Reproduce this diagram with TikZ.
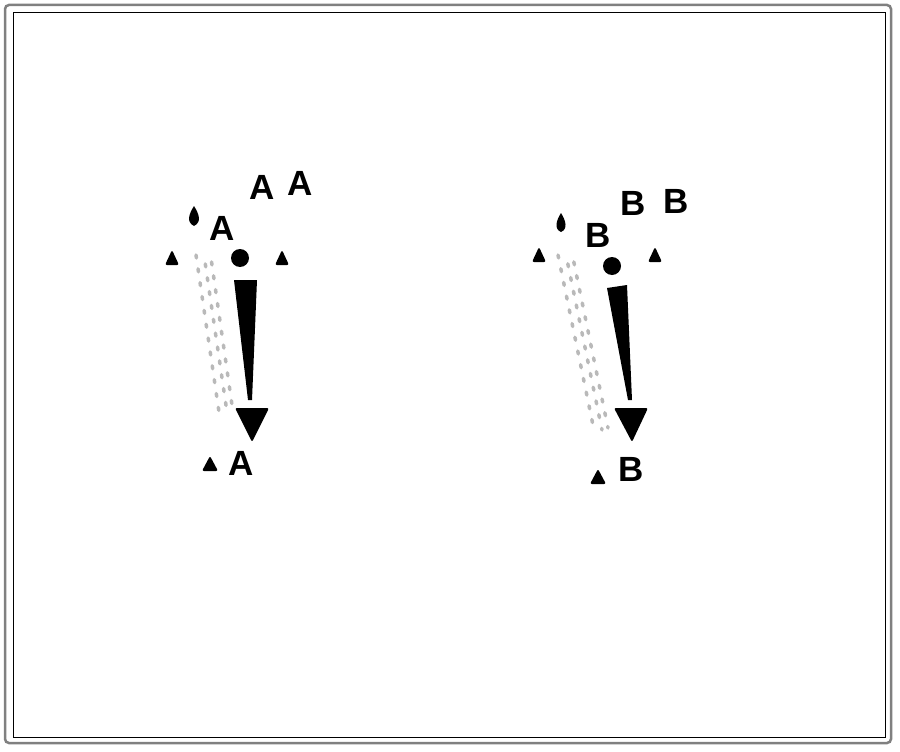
\documentclass[tikz,border=0pt]{standalone}
\usepackage{fontspec}
\setmainfont{Liberation Sans}
\begin{document}
\begin{tikzpicture}[x=1pt,y=-1pt,
  letter/.style={font=\fontsize{35}{35}\selectfont\bfseries, inner sep=0pt},
  tri/.style={fill=black, rounded corners=2pt},
  dotband/.style={gray!55, line width=3.5pt, dash pattern=on 3pt off 11pt, line cap=round}]
\useasboundingbox (0,0) rectangle (900,752);
\fill[white] (0,0) rectangle (900,752);
\draw[gray, line width=2.5pt, rounded corners=4pt] (5,5) rectangle (891,743);
\draw[black, line width=1pt] (13,13) rectangle (885,737);

% ---------- left group ----------
\node[letter] (la1) at (262,187) {A};
\node[letter] (la2) at (300,183) {A};
\node[letter] (la3) at (222,228) {A};
\node[letter] (la4) at (241,463) {A};
\fill (194,206) .. controls (189,214) and (186,222) .. (194,226) .. controls (202,222) and (199,214) .. (194,206);
\fill[tri] (165,265) -- (172,250) -- (179,265) -- cycle;
\fill[tri] (275,265) -- (282,250) -- (289,265) -- cycle;
\fill[tri] (202,471) -- (210,456) -- (218,471) -- cycle;
\node[circle, fill=black, minimum size=18pt, inner sep=0pt] (lc) at (240,258) {};
\fill (234,280) -- (257,280) -- (252,400) -- (248,400) -- cycle;
\fill[tri] (235,408) -- (269,408) -- (252,442) -- cycle;
\draw[dotband] (196,255) -- (219,412);
\draw[dotband, dash phase=5pt] (204,255) -- (227,412);
\draw[dotband, dash phase=10pt] (211,258) -- (233,412);

% ---------- right group ----------
\node[letter] (rb1) at (633,203) {B};
\node[letter] (rb2) at (676,201) {B};
\node[letter] (rb3) at (598,235) {B};
\node[letter] (rb4) at (631,469) {B};
\fill (561,213) .. controls (556,221) and (554,229) .. (561,232) .. controls (568,229) and (566,221) .. (561,213);
\fill[tri] (532,262) -- (539,247) -- (546,262) -- cycle;
\fill[tri] (648,262) -- (655,247) -- (662,262) -- cycle;
\fill[tri] (590,484) -- (598,469) -- (606,484) -- cycle;
\node[circle, fill=black, minimum size=18pt, inner sep=0pt] (rc) at (612,266) {};
\fill (607,288) -- (627,285) -- (632,400) -- (628,400) -- cycle;
\fill[tri] (614,408) -- (648,408) -- (632,442) -- cycle;
\draw[dotband] (558,255) -- (594,430);
\draw[dotband, dash phase=5pt] (566,255) -- (602,430);
\draw[dotband, dash phase=10pt] (573,258) -- (608,428);
\end{tikzpicture}
\end{document}
